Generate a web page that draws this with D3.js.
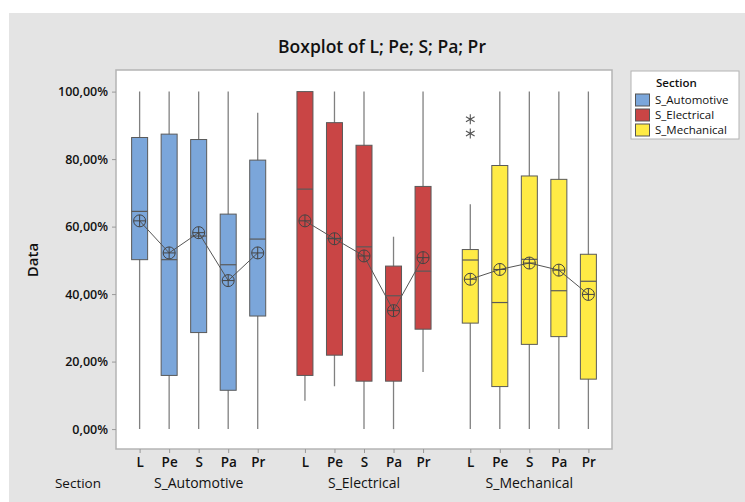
<!DOCTYPE html>
<html>
<head>
<meta charset="utf-8">
<script src="https://cdn.jsdelivr.net/npm/d3@7"></script>
<style>
  body { margin: 0; background: #fff; }
  text { font-family: "Open Sans", sans-serif; fill: #111; }
</style>
</head>
<body>
<svg width="745" height="502"></svg>
<script>
const titleText = 'Boxplot of L; Pe; S; Pa; Pr';
const sections = ['S_Automotive', 'S_Electrical', 'S_Mechanical'];
const variables = ['L', 'Pe', 'S', 'Pa', 'Pr'];
const colors = ['#7ba6da', '#c94545', '#ffeb45'];
const yTicks = [0, 20, 40, 60, 80, 100];

// values in %, one row per section, one entry per variable
const whiskerLow = [
  [0, 0, 0, 0, 0],
  [8.4, 12.7, 0, 0, 16.9],
  [0, 0, 0, 0, 0]
];
const q1 = [
  [50.2, 15.9, 28.6, 11.5, 33.5],
  [15.9, 21.9, 14.2, 14.2, 29.6],
  [31.4, 12.6, 25.1, 27.4, 14.8]
];
const median = [
  [64.5, 50.2, 57.2, 48.7, 56.3],
  [71.1, 56.5, 54.0, 39.5, 46.8],
  [50.1, 37.5, 50.3, 41.0, 43.8]
];
const q3 = [
  [86.4, 87.4, 85.8, 63.7, 79.7],
  [100, 90.8, 84.1, 48.3, 71.9],
  [53.2, 78.1, 75.0, 74.0, 51.8]
];
const whiskerHigh = [
  [100, 100, 100, 100, 93.7],
  [100, 100, 100, 57.0, 100],
  [66.6, 100, 100, 100, 100]
];
const means = [
  [61.7, 52.2, 58.2, 44.0, 52.2],
  [61.7, 56.4, 51.3, 35.1, 50.8],
  [44.4, 47.3, 49.2, 47.1, 39.9]
];
const outliers = [
  [[], [], [], [], []],
  [[], [], [], [], []],
  [[91.8, 87.6], [], [], [], []]
];

const svg = d3.select('svg');
const width = 745, height = 502;
const plot = { left: 116, top: 70, right: 612, bottom: 449 };

// background panel
svg.append('rect')
  .attr('x', 9).attr('y', 13)
  .attr('width', width - 9).attr('height', height - 13)
  .attr('fill', '#e4e4e4');

svg.append('text')
  .attr('x', 382).attr('y', 53)
  .attr('text-anchor', 'middle')
  .attr('font-size', 17.5)
  .attr('font-weight', 600)
  .text(titleText);

svg.append('rect')
  .attr('x', plot.left).attr('y', plot.top)
  .attr('width', plot.right - plot.left).attr('height', plot.bottom - plot.top)
  .attr('fill', '#fff')
  .attr('stroke', '#b4b4b4')
  .attr('stroke-width', 1.5);

const yScale = d3.scaleLinear()
  .domain([-5.9, 106.4])
  .range([plot.bottom, plot.top]);

const groupScale = d3.scaleBand()
  .domain(sections)
  .range([plot.left, plot.right]);

const xInner = d3.scalePoint()
  .domain(variables)
  .range([0, groupScale.bandwidth()])
  .padding(0.8);

const xPos = (si, vi) => groupScale(sections[si]) + xInner(variables[vi]);

// y axis
const yAxis = d3.axisLeft(yScale)
  .tickValues(yTicks)
  .tickSize(4)
  .tickPadding(4)
  .tickFormat(d => d3.format('.2f')(d).replace('.', ',') + '%');
const yAxisG = svg.append('g')
  .attr('transform', `translate(${plot.left},0)`)
  .call(yAxis)
  .attr('font-size', 12.5)
  .attr('font-family', '"Open Sans", sans-serif')
  .attr('font-weight', 600);
yAxisG.select('.domain').remove();
yAxisG.selectAll('line').attr('stroke', '#999');
yAxisG.selectAll('text').attr('fill', '#111');

svg.append('text')
  .attr('transform', 'translate(38,260) rotate(-90)')
  .attr('text-anchor', 'middle')
  .attr('font-size', 15)
  .attr('font-weight', 600)
  .text('Data');

// x axes per section
sections.forEach((s, si) => {
  const axis = d3.axisBottom(xInner).tickSize(4).tickSizeOuter(0).tickPadding(4);
  const ax = svg.append('g')
    .attr('transform', `translate(${groupScale(s)},${plot.bottom})`)
    .call(axis)
    .attr('font-size', 13.5)
    .attr('font-family', '"Open Sans", sans-serif')
    .attr('font-weight', 600);
  ax.select('.domain').remove();
  ax.selectAll('line').attr('stroke', '#999');
  ax.selectAll('text').attr('fill', '#111');

  svg.append('text')
    .attr('x', groupScale(s) + groupScale.bandwidth() / 2)
    .attr('y', 488)
    .attr('text-anchor', 'middle')
    .attr('font-size', 14)
    .text(s);
});

svg.append('text')
  .attr('x', 78)
  .attr('y', 488)
  .attr('text-anchor', 'middle')
  .attr('font-size', 13.5)
  .text('Section');

// boxes
const boxW = 16;
sections.forEach((s, si) => {
  const sg = svg.append('g');
  variables.forEach((v, vi) => {
    const x = xPos(si, vi);
    sg.append('line')
      .attr('x1', x).attr('x2', x)
      .attr('y1', yScale(whiskerLow[si][vi]))
      .attr('y2', yScale(whiskerHigh[si][vi]))
      .attr('stroke', '#808080')
      .attr('stroke-width', 1.3);
    sg.append('rect')
      .attr('x', x - boxW / 2)
      .attr('y', yScale(q3[si][vi]))
      .attr('width', boxW)
      .attr('height', yScale(q1[si][vi]) - yScale(q3[si][vi]))
      .attr('fill', colors[si])
      .attr('stroke', '#5a5a5a')
      .attr('stroke-width', 1);
    sg.append('line')
      .attr('x1', x - boxW / 2).attr('x2', x + boxW / 2)
      .attr('y1', yScale(median[si][vi]))
      .attr('y2', yScale(median[si][vi]))
      .attr('stroke', '#5a5a5a')
      .attr('stroke-width', 1.2);
    outliers[si][vi].forEach(o => {
      sg.append('path')
        .attr('d', d3.symbol(d3.symbolAsterisk, 70)())
        .attr('transform', `translate(${x},${yScale(o)})`)
        .attr('fill', 'none')
        .attr('stroke', '#555')
        .attr('stroke-width', 1.1);
    });
  });

  // mean connect line
  const line = d3.line()
    .x((d, vi) => xPos(si, vi))
    .y(d => yScale(d));
  sg.append('path')
    .attr('d', line(means[si]))
    .attr('fill', 'none')
    .attr('stroke', '#555')
    .attr('stroke-width', 1);

  means[si].forEach((m, vi) => {
    const x = xPos(si, vi), y = yScale(m);
    const r = 6;
    sg.append('circle')
      .attr('cx', x).attr('cy', y).attr('r', r)
      .attr('fill', 'none')
      .attr('stroke', '#444')
      .attr('stroke-width', 1);
    sg.append('path')
      .attr('d', `M${x - r},${y}H${x + r}M${x},${y - r}V${y + r}`)
      .attr('stroke', '#444')
      .attr('stroke-width', 1);
  });
});

// legend
const legend = svg.append('g').attr('transform', 'translate(631,71)');
legend.append('rect')
  .attr('width', 108).attr('height', 68)
  .attr('fill', '#fff')
  .attr('stroke', '#b4b4b4');
legend.append('text')
  .attr('x', 25).attr('y', 16)
  .attr('font-size', 11.5)
  .attr('font-weight', 600)
  .text('Section');
sections.forEach((s, i) => {
  const ly = 29 + i * 15;
  legend.append('rect')
    .attr('x', 4.5).attr('y', ly - 6)
    .attr('width', 14).attr('height', 12)
    .attr('fill', colors[i])
    .attr('stroke', '#555');
  legend.append('text')
    .attr('x', 24).attr('y', ly + 4)
    .attr('font-size', 11.5)
    .text(s);
});
</script>
</body>
</html>
